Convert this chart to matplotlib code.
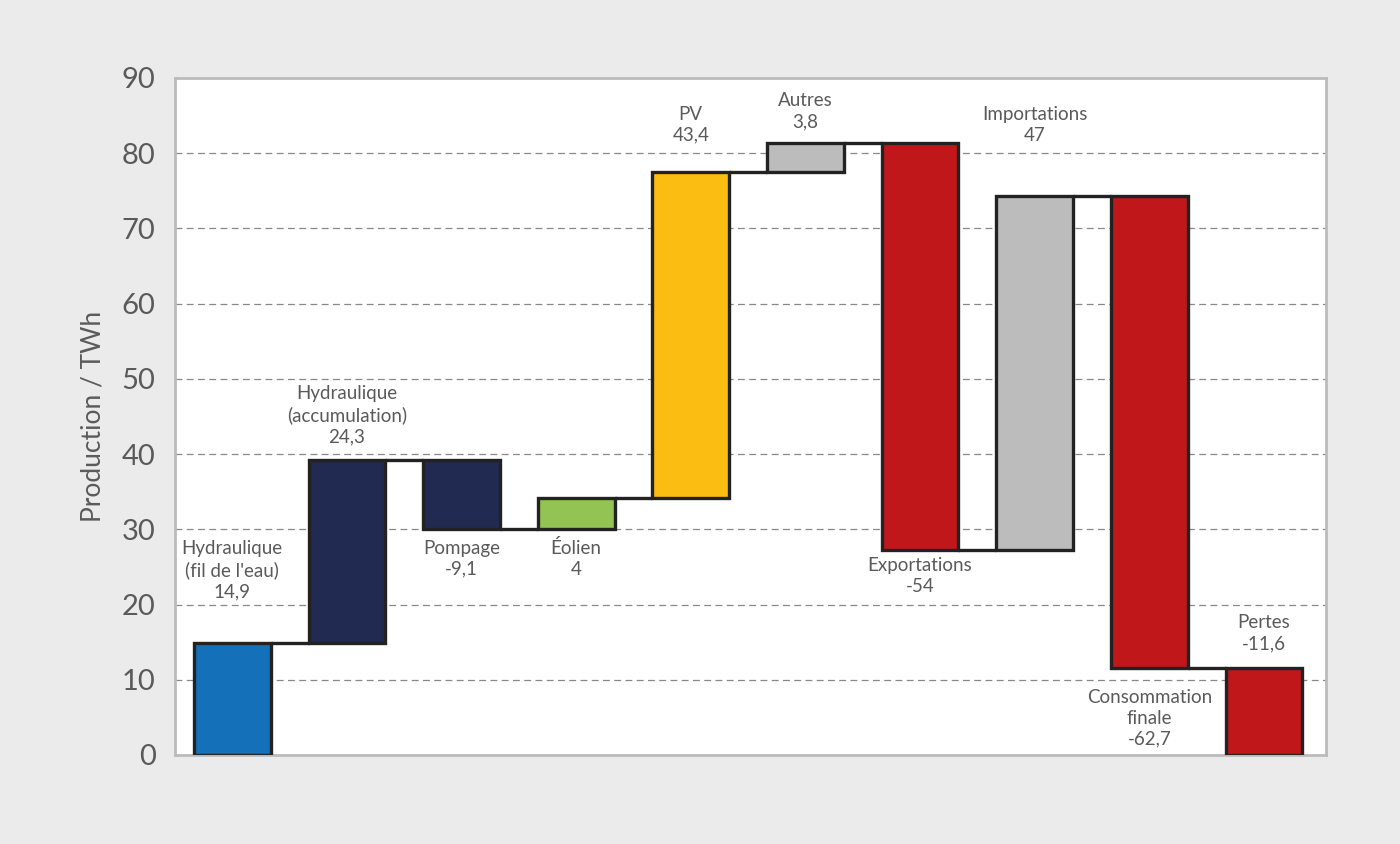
import numpy as np
import matplotlib.pyplot as plt

# data
categories = ["Hydraulique\n(fil de l'eau)", "Hydraulique\n(accumulation)", "Pompage",
              "Éolien", "PV", "Autres", "Exportations", "Importations",
              "Consommation\nfinale", "Pertes"]
values = [14.9, 24.3, -9.1, 4, 43.4, 3.8, -54, 47, -62.7, -11.6]
colors = ["#1470b8", "#212b52", "#212b52", "#92c353", "#fbbd12",
          "#bcbcbc", "#c0171a", "#bcbcbc", "#c0171a", "#c0171a"]

# label centre heights (layout, in data units)
label_y = [24.6, 45.2, 26.1, 26.1, 83.8, 85.6, 23.8, 83.8, 4.9, 16.2]

plt.rcParams["font.family"] = ["Lato", "DejaVu Sans"]

fig = plt.figure(figsize=(14, 8.44), dpi=100)
fig.patch.set_facecolor("#ebebeb")
ax = fig.add_axes([0.125, 0.1055, 0.822, 0.8021])
ax.set_facecolor("white")

vals = np.array(values, dtype=float)
ends = np.cumsum(vals)
starts = ends - vals
x = np.arange(len(vals))
width = 0.67

bottoms = np.minimum(starts, ends)
heights = np.abs(vals)
ax.bar(x, heights, width=width, bottom=bottoms, color=colors,
       edgecolor="#222222", linewidth=2.4, zorder=3)

# connectors between bars
for i in range(len(vals) - 1):
    ax.plot([x[i] + width / 2, x[i + 1] - width / 2], [ends[i], ends[i]],
            color="#222222", linewidth=2.4, zorder=3, solid_capstyle="butt")

def fmt(v):
    s = f"{v:.1f}".rstrip("0").rstrip(".")
    return s.replace(".", ",")

for i, (cat, v) in enumerate(zip(categories, values)):
    ax.text(x[i], label_y[i], f"{cat}\n{fmt(v)}", ha="center", va="center",
            fontsize=13.5, color="#5a5a5a", linespacing=1.28, zorder=4)

ax.set_xlim(-0.5, 9.54)
ax.set_ylim(0, 90)
ax.set_yticks(np.arange(0, 91, 10))
ax.set_xticks([])
ax.tick_params(axis="y", length=0, pad=14, labelsize=21, labelcolor="#5a5a5a")
ax.yaxis.grid(True, linestyle=(0, (5.5, 3.5)), color="#888888", linewidth=0.9, zorder=1)
ax.set_axisbelow(True)
# hide grid at 0 and 90
for line, t in zip(ax.get_ygridlines(), ax.get_yticks()):
    if t in (0, 90):
        line.set_visible(False)

for spine in ax.spines.values():
    spine.set_color("#bbbbbb")
    spine.set_linewidth(2)

ax.set_ylabel("Production / TWh", fontsize=19, color="#5a5a5a", labelpad=12)

fig.savefig("out.png", dpi=100, facecolor=fig.get_facecolor())
